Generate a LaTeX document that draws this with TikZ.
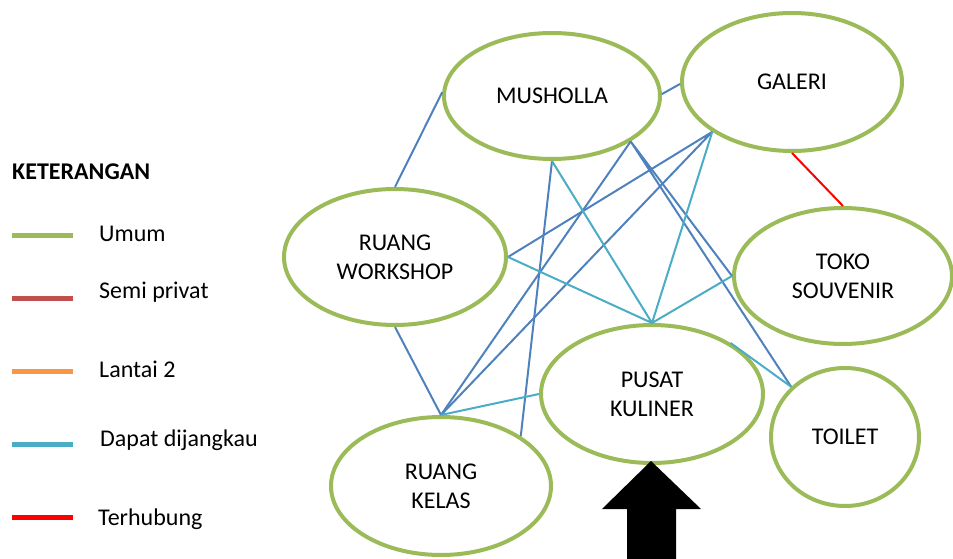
\documentclass[tikz,border=0pt]{standalone}
\usepackage{fontspec}
\setmainfont{Carlito}
\usetikzlibrary{shapes.geometric}
\definecolor{hijau}{HTML}{9BBB59}
\definecolor{biru}{HTML}{4F81BD}
\definecolor{toska}{HTML}{4BACC6}
\definecolor{merahbata}{HTML}{C0504D}
\definecolor{oranye}{HTML}{F79646}
\definecolor{merah}{HTML}{FF0000}
\tikzset{
	ruang/.style={ellipse,draw=hijau,line width=4pt,fill=white,inner sep=0pt,align=center,font=\fontsize{24}{29}\selectfont},
	umum/.style={biru,line width=2pt},
	jangkau/.style={toska,line width=2pt},
	hubung/.style={merah,line width=2pt},
	ket/.style={anchor=base west,inner sep=0pt,font=\fontsize{24}{29}\selectfont},
	garis/.style={line width=5pt}
}
\begin{document}
\begin{tikzpicture}[x=1pt,y=-1pt]
		\useasboundingbox (0,0) rectangle (953,559);
		%ruang
		\draw (552,96) node[ruang,minimum width=216pt,minimum height=126pt](mus){MUSHOLLA};
		\draw (792,82) node[ruang,minimum width=220pt,minimum height=138pt](gal){GALERI};
		\draw (395,257) node[ruang,minimum width=222pt,minimum height=136pt](ws){RUANG\\WORKSHOP};
		\draw (843,276) node[ruang,minimum width=218pt,minimum height=136pt](toko){TOKO\\SOUVENIR};
		\draw (652,394) node[ruang,minimum width=222pt,minimum height=138pt](kul){PUSAT\\KULINER};
		\draw (441,486) node[ruang,minimum width=220pt,minimum height=138pt](kls){RUANG\\KELAS};
		\draw (845,437) node[ruang,minimum width=148pt,minimum height=138pt](wc){TOILET};
		%hubungan
		\draw[umum] (mus.178) -- (ws.90) (mus.1) -- (gal.181) (mus.270) -- (kls.32);
		\draw[umum] (mus.330) -- (kls.90) (mus.330) -- (toko.180) (mus.330) -- (wc.137);
		\draw[umum] (gal.212) -- (ws.0) (gal.212) -- (kls.90) (ws.270) -- (kls.90);
		\draw[jangkau] (mus.270) -- (kul.90) (gal.212) -- (kul.90) (ws.0) -- (kul.90);
		\draw[jangkau] (kul.90) -- (toko.180) (kls.90) -- (kul.180) (kul.33) -- (wc.137);
		\draw[hubung] (gal.270) -- (toko.90);
		%pintu masuk
		\fill (651,461) -- (701,509) -- (676,509) -- (676,559) -- (627,559) -- (627,509) -- (602,509) -- cycle;
		%keterangan
		\draw (12,179) node[ket,font=\fontsize{24}{29}\selectfont\bfseries](judul){KETERANGAN};
		\draw[garis,hijau] (12,235) -- (73,235);
		\draw[garis,merahbata] (12,298) -- (73,298);
		\draw[garis,oranye] (12,371) -- (73,371);
		\draw[garis,toska] (12,444) -- (73,444);
		\draw[garis,merah] (12,517) -- (73,517);
		\draw (99,241) node[ket](k-1){Umum} (99,298) node[ket](k-2){Semi privat};
		\draw (99,377) node[ket](k-3){Lantai 2} (100,446) node[ket](k-4){Dapat dijangkau};
		\draw (98,525) node[ket](k-5){Terhubung};
	\end{tikzpicture}
\end{document}
